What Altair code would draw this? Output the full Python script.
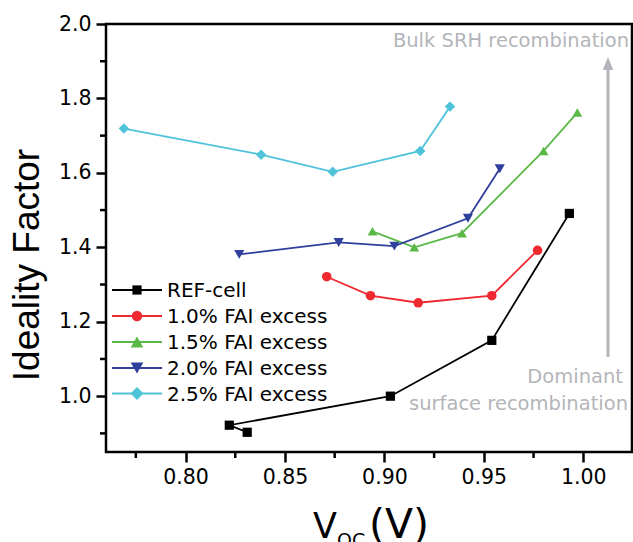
import altair as alt
import pandas as pd

# ---------------- data ----------------
series_names = ["REF-cell", "1.0% FAI excess", "1.5% FAI excess",
                "2.0% FAI excess", "2.5% FAI excess"]

ref_voc = [0.831, 0.822, 0.903, 0.954, 0.993]
ref_n = [0.903, 0.922, 1.000, 1.150, 1.491]

fai10_voc = [0.871, 0.893, 0.917, 0.954, 0.977]
fai10_n = [1.321, 1.270, 1.251, 1.270, 1.392]

fai15_voc = [0.894, 0.915, 0.939, 0.980, 0.997]
fai15_n = [1.443, 1.400, 1.438, 1.659, 1.762]

fai20_voc = [0.827, 0.877, 0.905, 0.942, 0.958]
fai20_n = [1.381, 1.413, 1.403, 1.478, 1.611]

fai25_voc = [0.769, 0.838, 0.874, 0.918, 0.933]
fai25_n = [1.719, 1.649, 1.603, 1.659, 1.778]

colors = ["#000000", "#ee2a30", "#5ab946", "#2e3f9c", "#4fc3d8"]
shapes = ["square", "circle", "triangle-up", "triangle-down", "diamond"]
sizes = [85, 110, 160, 160, 170]

x_ticks = [0.80, 0.85, 0.90, 0.95, 1.00]
x_minor = [0.775, 0.825, 0.875, 0.925, 0.975]
y_ticks = [1.0, 1.2, 1.4, 1.6, 1.8, 2.0]
y_minor = [0.9, 1.1, 1.3, 1.5, 1.7, 1.9]

x_title_main = "V"
x_title_sub = "OC"
x_title_unit = "(V)"
y_title = "Ideality Factor"
note_top = "Bulk SRH recombination"
note_bottom_1 = "Dominant"
note_bottom_2 = "surface recombination"

# ---------------- build table ----------------
all_voc = [ref_voc, fai10_voc, fai15_voc, fai20_voc, fai25_voc]
all_n = [ref_n, fai10_n, fai15_n, fai20_n, fai25_n]
rows = []
for name, xs, ys in zip(series_names, all_voc, all_n):
    for i, (xv, yv) in enumerate(zip(xs, ys)):
        rows.append({"series": name, "voc": xv, "n": yv, "idx": i})
df = pd.DataFrame(rows)

W, H = 526, 428
FONT = "DejaVu Sans"
GRAY = "#b3b5ba"
one = pd.DataFrame({"_": [0]})

xscale = alt.Scale(domain=[0.76, 1.0245], nice=False, zero=False)
yscale = alt.Scale(domain=[0.85, 2.0], nice=False, zero=False)

X = alt.X("voc:Q", scale=xscale,
          axis=alt.Axis(values=x_ticks, format=".2f", title=None, grid=False,
                        domain=False, tickSize=10, tickWidth=2.5, tickColor="black",
                        labelFont=FONT, labelFontSize=20.5, labelColor="black",
                        labelPadding=5))
Y = alt.Y("n:Q", scale=yscale,
          axis=alt.Axis(values=y_ticks, format=".1f", title=None, grid=False,
                        domain=False, tickSize=10, tickWidth=2.5, tickColor="black",
                        labelFont=FONT, labelFontSize=20.5, labelColor="black",
                        labelPadding=5))

color = alt.Color("series:N", scale=alt.Scale(domain=series_names, range=colors), legend=None)
shape = alt.Shape("series:N", scale=alt.Scale(domain=series_names, range=shapes), legend=None)
size = alt.Size("series:N", scale=alt.Scale(domain=series_names, range=sizes), legend=None)

base = alt.Chart(df)
lines = base.mark_line(strokeWidth=1.8).encode(x=X, y=Y, color=color, order="idx:Q")
points = base.mark_point(filled=True, opacity=1).encode(x=X, y=Y, color=color, shape=shape, size=size)

xminor = alt.Chart(pd.DataFrame({"voc": x_minor})).mark_rule(color="black", strokeWidth=2.5).encode(
    x=X, y=alt.value(H), y2=alt.value(H + 6))
yminor = alt.Chart(pd.DataFrame({"n": y_minor})).mark_rule(color="black", strokeWidth=2.5).encode(
    y=Y, x=alt.value(0), x2=alt.value(-6))

layers = [xminor, yminor, lines, points]

# ---------------- legend ----------------
leg_y = [266, 292, 318, 344, 369.5]
for name, c, s, sz, ry in zip(series_names, colors, shapes, sizes, leg_y):
    layers.append(alt.Chart(one).mark_rule(color=c, strokeWidth=1.8).encode(
        x=alt.value(6), x2=alt.value(56), y=alt.value(ry)))
    layers.append(alt.Chart(one).mark_point(shape=s, filled=True, opacity=1, color=c, size=sz).encode(
        x=alt.value(31), y=alt.value(ry)))
    layers.append(alt.Chart(one).mark_text(align="left", baseline="middle", font=FONT,
                                           fontSize=20, color="black").encode(
        x=alt.value(61), y=alt.value(ry + 1), text=alt.value(name)))

# ---------------- annotations ----------------
layers.append(alt.Chart(one).mark_rule(color=GRAY, strokeWidth=3).encode(
    x=alt.value(502), y=alt.value(44), y2=alt.value(333)))
layers.append(alt.Chart(one).mark_point(shape="M0,-1L0.8,1L-0.8,1Z", filled=True, opacity=1,
                                        color=GRAY, size=169).encode(
    x=alt.value(502), y=alt.value(39.5)))
layers.append(alt.Chart(one).mark_text(align="right", baseline="alphabetic", font=FONT,
                                       fontSize=19.5, color=GRAY).encode(
    x=alt.value(523), y=alt.value(23), text=alt.value(note_top)))
layers.append(alt.Chart(one).mark_text(align="right", baseline="alphabetic", font=FONT,
                                       fontSize=19.5, color=GRAY).encode(
    x=alt.value(517), y=alt.value(359), text=alt.value(note_bottom_1)))
layers.append(alt.Chart(one).mark_text(align="right", baseline="alphabetic", font=FONT,
                                       fontSize=19.5, color=GRAY).encode(
    x=alt.value(522), y=alt.value(386), text=alt.value(note_bottom_2)))

# ---------------- axis titles ----------------
layers.append(alt.Chart(one).mark_text(angle=270, align="center", baseline="middle",
                                       font="Liberation Sans", fontSize=37, color="black").encode(
    x=alt.value(-78), y=alt.value(241), text=alt.value(y_title)))
layers.append(alt.Chart(one).mark_text(align="left", baseline="alphabetic", font=FONT,
                                       fontSize=35, color="black").encode(
    x=alt.value(207), y=alt.value(514), text=alt.value(x_title_main)))
layers.append(alt.Chart(one).mark_text(align="left", baseline="alphabetic", font=FONT,
                                       fontSize=19, color="black").encode(
    x=alt.value(231), y=alt.value(523), text=alt.value(x_title_sub)))
layers.append(alt.Chart(one).mark_text(align="left", baseline="alphabetic", font=FONT,
                                       fontSize=41, color="black").encode(
    x=alt.value(263), y=alt.value(514), text=alt.value(x_title_unit)))

chart = alt.layer(*layers).properties(
    width=W, height=H,
    padding={"left": 106, "top": 24, "right": 1, "bottom": 90},
    autosize=alt.AutoSizeParams(type="none"),
    background="white",
).configure_view(stroke="black", strokeWidth=2.5)

chart.save("out.html", embed_options={"renderer": "svg", "actions": False})
